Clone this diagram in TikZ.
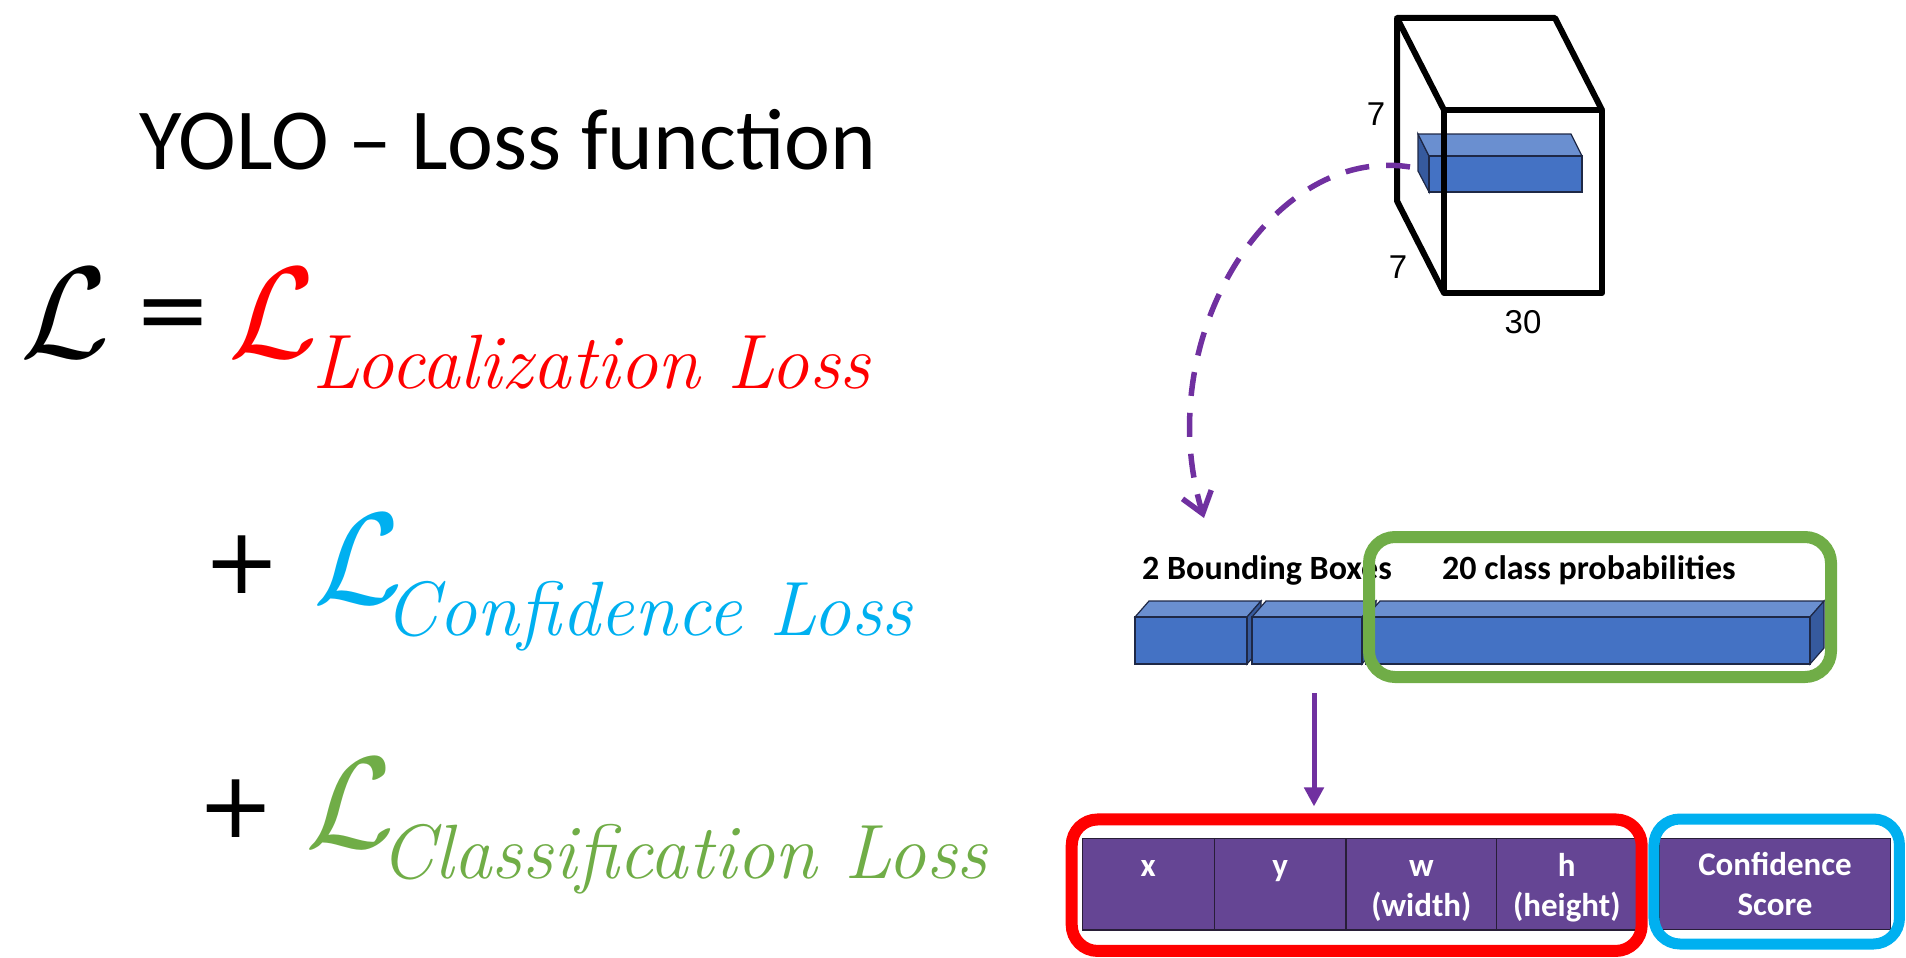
\RequirePackage{fix-cm}
\documentclass[tikz,border=0pt]{standalone}
\usepackage{fontspec}
\newfontfamily\slidefont{Carlito}
\newfontfamily\cubefont{Liberation Sans}
\newfontfamily\signfont{DejaVu Sans}
\usetikzlibrary{arrows.meta}

\definecolor{lossred}{RGB}{255,0,0}
\definecolor{losscyan}{RGB}{0,176,240}
\definecolor{lossgreen}{RGB}{112,173,71}
\definecolor{arrowpurple}{RGB}{112,48,160}
\definecolor{cellpurple}{RGB}{101,69,148}
\definecolor{celledge}{RGB}{40,30,55}
\definecolor{barfront}{RGB}{68,114,196}
\definecolor{bartop}{RGB}{106,143,208}
\definecolor{barside}{RGB}{54,90,158}
\definecolor{baredge}{RGB}{30,40,70}

\begin{document}
\begin{tikzpicture}[x=1pt,y=-1pt,
  slidetitle/.style={font=\slidefont\fontsize{87}{87}\selectfont, anchor=base west, inner sep=0pt},
  bigL/.style={font=\fontsize{130}{130}\selectfont, anchor=base west, inner sep=0pt},
  lossterm/.style={font=\itshape\fontsize{77}{77}\selectfont, anchor=base west, inner sep=0pt},
  sign/.style={font=\signfont\fontsize{92}{92}\selectfont, inner sep=0pt},
  dimlabel/.style={font=\cubefont\fontsize{33}{33}\selectfont, inner sep=0pt},
  barlabel/.style={font=\slidefont\bfseries\fontsize{34}{34}\selectfont, anchor=base west, inner sep=0pt},
  face/.style={draw=baredge, line width=1.2pt},
  cubeline/.style={line width=6pt, line join=round},
  cell/.style={draw=celledge, line width=1.5pt, fill=cellpurple, text=white, align=center,
    inner sep=0pt, font=\slidefont\bfseries\fontsize{33}{40}\selectfont, minimum height=91.7pt},
  loopbox/.style={line width=12pt, rounded corners=26pt, inner sep=0pt},
]
\useasboundingbox (0,0) rectangle (1906,958);

% left: the loss
\node[slidetitle] (title) at (139,169) {YOLO – Loss function};
\node[bigL] (Ltotal) at (20,357) {$\mathcal{L}$};
\node[sign] (equals) at (173,321) {=};
\node[bigL, text=lossred] (Lloc) at (228,357) {$\mathcal{L}$};
\node[lossterm, text=lossred] (locname) at (312,388) {Localization Loss};
\node[sign] (plusconf) at (242,565) {+};
\node[bigL, text=losscyan] (Lconf) at (313,603) {$\mathcal{L}$};
\node[lossterm, text=losscyan] (confname) at (384,635) {Confidence Loss};
\node[sign] (pluscls) at (236.5,809) {+};
\node[bigL, text=lossgreen] (Lcls) at (305,847) {$\mathcal{L}$};
\node[lossterm, text=lossgreen] (clsname) at (380,878) {Classification Loss};

% output tensor and one cell
\filldraw[face, fill=barside] (1418,134) -- (1429,156) -- (1429,192) -- (1418,171) -- cycle;
\filldraw[face, fill=bartop] (1418,134) -- (1571,134) -- (1582,156) -- (1429,156) -- cycle;
\filldraw[face, fill=barfront] (1429,156) rectangle (1582,192);
\draw[cubeline] (1444,110) -- (1397,18) -- (1555,18) -- (1602,110);
\draw[cubeline] (1397,18) -- (1397,201) -- (1444,293);
\draw[cubeline] (1444,110) rectangle (1602,293);
\node[dimlabel] (rows) at (1376,114) {7};
\node[dimlabel] (cols) at (1398,267) {7};
\node[dimlabel] (depth) at (1523,322) {30};

% the cell vector
\node[barlabel] (boxlbl) at (1142,579) {2 Bounding Boxes};
\node[barlabel] (clslbl) at (1442,579) {20 class probabilities};
\foreach \xa/\xb in {1135/1247, 1252/1362, 1366/1810} {
  \filldraw[face, fill=bartop] (\xa,617) -- ++(14,-16) -- (\xb+14,601) -- (\xb,617) -- cycle;
  \filldraw[face, fill=barside] (\xb,617) -- (\xb+14,601) -- (\xb+14,648) -- (\xb,664) -- cycle;
  \filldraw[face, fill=barfront] (\xa,617) rectangle (\xb,664);
}
\node[loopbox, draw=lossgreen, minimum width=462pt, minimum height=140pt] (clsgroup) at (1600,607) {};

% one bounding box
\foreach \nm/\xa/\xb/\la/\lb in {cx/1082.3/1214.3/x/{}, cy/1214.3/1346/y/{},
    cw/1346/1496.7/w/(width), ch/1496.7/1636.8/h/(height)}
  \node[cell, minimum width={(\xb-\xa)*1pt}] (\nm) at ({(\xa+\xb)/2},884.2) {\rule{0pt}{36pt}\la\\\strut\lb};
\node[cell, minimum width=231.4pt, minimum height=91pt] (conf) at (1775,883.8) {\rule{0pt}{36pt}Confidence\\\strut Score};
\node[loopbox, draw=lossred, minimum width=570pt, minimum height=131.5pt] (boxgroup) at (1356.7,885.2) {};
\node[loopbox, draw=losscyan, line width=11pt, minimum width=245.5pt, minimum height=125pt] (confgroup) at (1776.7,881.5) {};

% arrows
\coordinate (slot) at (1410,167);
\coordinate (drop) at (1204,518);
\coordinate (split) at (1314,693);
\draw[arrowpurple, line width=5.5pt, dash pattern=on 24pt off 17pt,
  -{Straight Barb[length=20pt,width=30pt]}] (slot) .. controls (1270,145) and (1150,340) .. (drop);
\draw[arrowpurple, line width=5pt, -{Triangle[length=19pt,width=19pt]}, shorten >=7pt]
  (split) -- (split |- boxgroup.north);
\end{tikzpicture}
\end{document}
